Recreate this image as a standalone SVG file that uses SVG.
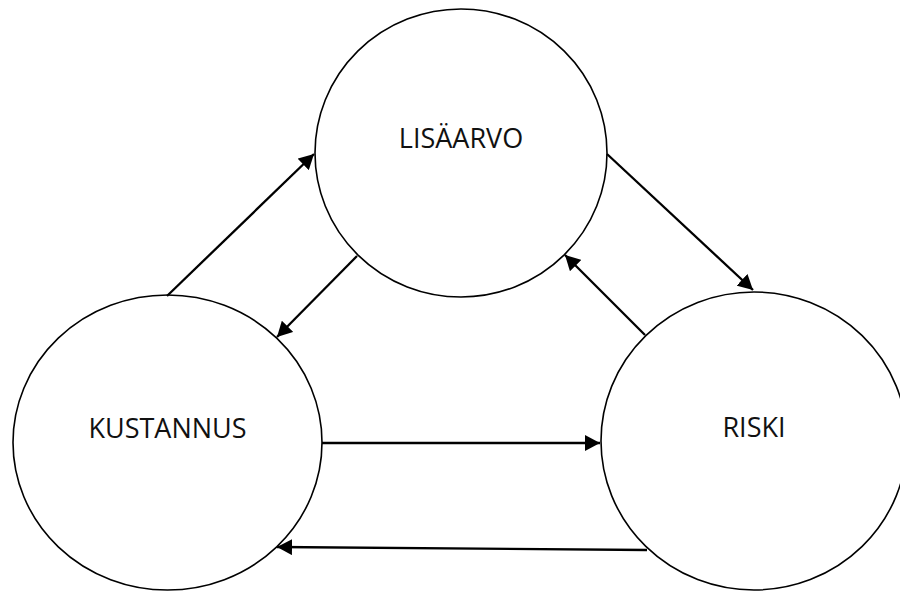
<svg xmlns="http://www.w3.org/2000/svg" width="900" height="592" viewBox="0 0 900 592">
<style>
.node{fill:#fff;stroke:#000;stroke-width:1.6}
.lbl{font-family:"Open Sans","Liberation Sans",sans-serif;font-size:27px;fill:#111;text-anchor:middle}
.conn{stroke:#000;stroke-width:2.3;fill:none;marker-end:url(#ah)}
</style>
<defs>
<marker id="ah" viewBox="0 0 15 16" refX="15" refY="8" markerWidth="15" markerHeight="16" markerUnits="userSpaceOnUse" orient="auto">
<path d="M0,0 L15,8 L0,16 z" fill="#000"/>
</marker>
</defs>
<rect width="900" height="592" fill="#fff"/>
<g id="lisaarvo">
<ellipse class="node" cx="461" cy="153" rx="146" ry="144"/>
<text class="lbl" x="461" y="148">LISÄARVO</text>
</g>
<g id="kustannus">
<ellipse class="node" cx="167.5" cy="442.5" rx="154.5" ry="147.5"/>
<text class="lbl" x="167.5" y="438">KUSTANNUS</text>
</g>
<g id="riski">
<ellipse class="node" cx="754" cy="441" rx="153" ry="149"/>
<text class="lbl" x="754" y="437">RISKI</text>
</g>
<g id="connectors">
<line class="conn" x1="167" y1="296" x2="314" y2="154"/>
<line class="conn" x1="357" y1="256" x2="277" y2="337"/>
<line class="conn" x1="607" y1="154" x2="753" y2="290"/>
<line class="conn" x1="645" y1="335" x2="565" y2="255"/>
<line class="conn" x1="322" y1="443" x2="600" y2="443"/>
<line class="conn" x1="647" y1="550" x2="277" y2="547"/>
</g>
</svg>
